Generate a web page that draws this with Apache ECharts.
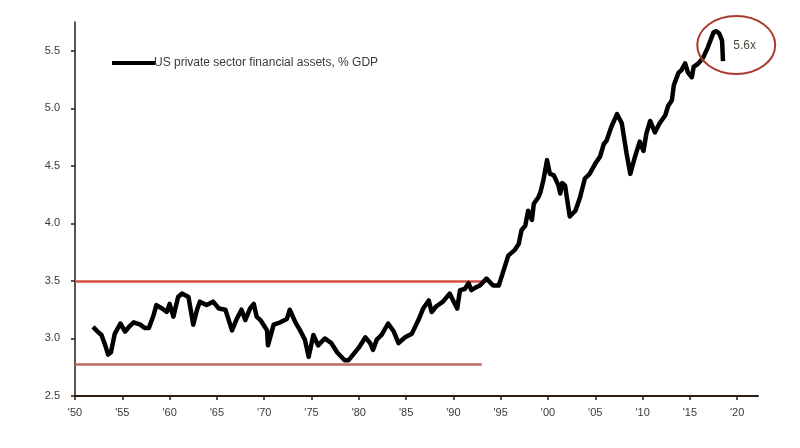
<!DOCTYPE html>
<html>
<head>
<meta charset="utf-8">
<script src="https://cdn.jsdelivr.net/npm/echarts@6/dist/echarts.min.js"></script>
<style>
html,body{margin:0;padding:0;background:#fff;}
#chart{width:800px;height:448px;}
</style>
</head>
<body>
<div id="chart"></div>
<script>
// ---- data ----
const years = [1951.9,1952.4,1952.8,1953.2,1953.5,1953.8,1954.2,1954.8,1955.3,1955.7,1956.2,1956.9,1957.4,1957.8,1958.3,1958.6,1959.2,1959.7,1960.0,1960.4,1960.9,1961.3,1962.0,1962.5,1962.9,1963.2,1963.9,1964.6,1965.2,1965.9,1966.6,1967.1,1967.6,1968.0,1968.5,1968.9,1969.2,1969.6,1970.3,1970.4,1971.0,1971.7,1972.4,1972.7,1973.3,1973.8,1974.3,1974.7,1975.2,1975.7,1976.4,1977.1,1977.7,1978.5,1978.9,1979.4,1980.0,1980.7,1981.2,1981.5,1981.9,1982.4,1983.1,1983.7,1984.2,1984.9,1985.6,1986.3,1986.8,1987.4,1987.7,1988.2,1988.9,1989.6,1990.4,1990.7,1991.2,1991.6,1991.9,1992.3,1992.8,1993.5,1994.2,1994.8,1995.3,1995.8,1996.5,1996.9,1997.2,1997.6,1997.9,1998.3,1998.5,1999.0,1999.2,1999.5,1999.9,2000.2,2000.6,2001.1,2001.3,2001.5,2001.8,2002.3,2002.9,2003.4,2003.9,2004.4,2005.0,2005.5,2005.9,2006.2,2006.7,2007.3,2007.8,2008.3,2008.7,2009.2,2009.7,2010.1,2010.4,2010.8,2011.3,2011.8,2012.4,2012.7,2013.1,2013.3,2013.8,2014.1,2014.5,2014.8,2015.2,2015.4,2015.9,2016.4,2016.9,2017.5,2017.8,2018.1,2018.4,2018.5];
const assetsPctGDP = [3.10,3.06,3.03,2.94,2.86,2.88,3.04,3.13,3.06,3.10,3.14,3.12,3.09,3.09,3.20,3.29,3.26,3.23,3.30,3.19,3.36,3.39,3.36,3.12,3.25,3.32,3.29,3.32,3.26,3.25,3.07,3.17,3.25,3.16,3.26,3.30,3.19,3.16,3.07,2.94,3.12,3.14,3.17,3.25,3.14,3.07,2.99,2.84,3.03,2.94,3.00,2.96,2.88,2.81,2.81,2.86,2.92,3.01,2.96,2.90,2.99,3.03,3.13,3.06,2.96,3.01,3.04,3.16,3.26,3.33,3.23,3.28,3.32,3.39,3.26,3.42,3.43,3.48,3.42,3.44,3.46,3.52,3.46,3.46,3.59,3.72,3.77,3.82,3.94,3.98,4.11,4.03,4.17,4.23,4.27,4.37,4.55,4.43,4.42,4.33,4.26,4.35,4.33,4.06,4.11,4.23,4.39,4.43,4.52,4.58,4.69,4.72,4.84,4.95,4.87,4.61,4.43,4.58,4.71,4.63,4.78,4.89,4.79,4.87,4.94,5.02,5.07,5.20,5.31,5.33,5.39,5.31,5.27,5.36,5.39,5.44,5.53,5.66,5.67,5.65,5.59,5.41];
const seriesName = 'US private sector financial assets, % GDP';
const xTickYears = [1950,1955,1960,1965,1970,1975,1980,1985,1990,1995,2000,2005,2010,2015,2020];
const xTickLabels = ["'50","'55","'60","'65","'70","'75","'80","'85","'90","'95","'00","'05","'10","'15","'20"];
const yTickValues = [2.5,3.0,3.5,4.0,4.5,5.0,5.5];
const yTickLabels = ['2.5','3.0','3.5','4.0','4.5','5.0','5.5'];
const refHigh = 3.5, refLow = 2.78, refStartYear = 1950, refEndYear = 1993;
const annoYear = 2019.9, annoValue = 5.55, annoText = '5.6x';

const chart = echarts.init(document.getElementById('chart'), null, {renderer: 'canvas'});
const axisColor = '#2a1c10';
const labelStyle = {color: '#3a3a3a', fontSize: 11, fontFamily: 'Liberation Sans, Arial, sans-serif'};

const option = {
  animation: false,
  backgroundColor: '#ffffff',
  grid: {left: 75, right: 42, top: 22, bottom: 52, containLabel: false},
  legend: {
    left: 107, top: 52,
    icon: 'rect', itemWidth: 43, itemHeight: 4, itemGap: 10,
    textStyle: {color: '#3a3a3a', fontSize: 12, fontFamily: 'Liberation Sans, Arial, sans-serif', padding: [0,0,0,-6]},
    data: [seriesName]
  },
  xAxis: {
    type: 'value', min: 1950, max: 2022.2,
    splitLine: {show: false},
    axisLine: {show: true, lineStyle: {color: axisColor, width: 2}},
    axisTick: {show: true, length: 4, lineStyle: {color: axisColor, width: 1.5}, customValues: xTickYears},
    axisLabel: Object.assign({}, labelStyle, {
      customValues: xTickYears, margin: 11,
      formatter: v => { const i = xTickYears.indexOf(Math.round(v)); return i >= 0 ? xTickLabels[i] : ''; }
    })
  },
  yAxis: {
    type: 'value', min: 2.5, max: 5.75,
    splitLine: {show: false},
    axisLine: {show: true, lineStyle: {color: axisColor, width: 1.5}},
    axisTick: {show: true, length: 4, lineStyle: {color: axisColor, width: 1.5}, customValues: yTickValues},
    axisLabel: Object.assign({}, labelStyle, {
      customValues: yTickValues, margin: 15,
      formatter: v => { const i = yTickValues.findIndex(t => Math.abs(t - v) < 1e-6); return i >= 0 ? yTickLabels[i] : ''; }
    })
  },
  series: [{
    name: seriesName,
    type: 'line',
    data: years.map((y, i) => [y, assetsPctGDP[i]]),
    showSymbol: false, symbol: 'none',
    lineStyle: {color: '#000000', width: 4.5, join: 'round'},
    itemStyle: {color: '#000000'},
    z: 5,
    markLine: {
      silent: true, symbol: ['none','none'], label: {show: false},
      z: 3,
      data: [
        [{coord: [refStartYear, refHigh], lineStyle: {color: '#d4503f', width: 2.5, type: 'solid'}}, {coord: [refEndYear, refHigh]}],
        [{coord: [refStartYear, refLow], lineStyle: {color: '#bd6c5f', width: 2.5, type: 'solid'}}, {coord: [refEndYear, refLow]}]
      ]
    }
  }]
};
chart.setOption(option);

const c = chart.convertToPixel({gridIndex: 0}, [annoYear, annoValue]);
chart.setOption({
  graphic: [
    {type: 'ellipse', shape: {cx: c[0], cy: c[1], rx: 39, ry: 29}, style: {fill: 'none', stroke: '#a83a2c', lineWidth: 2}, z: 10},
    {type: 'text', x: c[0] - 3, y: c[1] + 1, style: {text: annoText, fill: '#4a4a3a', fontSize: 12, fontFamily: 'Liberation Sans, Arial, sans-serif', textVerticalAlign: 'middle'}, z: 11}
  ]
});
</script>
</body>
</html>
